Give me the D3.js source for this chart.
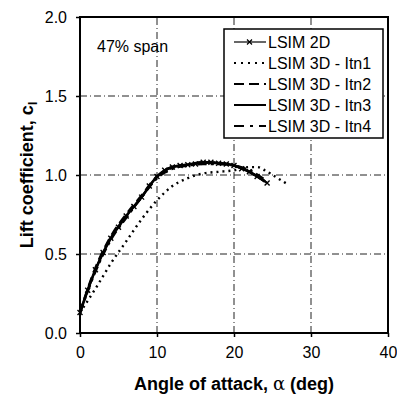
<!DOCTYPE html>
<html>
<head>
<meta charset="utf-8">
<script src="https://cdn.jsdelivr.net/npm/d3@7"></script>
<style>
  body { margin: 0; background: #fff; }
  svg { display: block; font-family: "Liberation Sans", Arial, sans-serif; }
</style>
</head>
<body>
<script>
// data
var alpha2D = [0, 1, 2, 3, 4, 5, 6, 7, 8, 9, 10, 11, 12, 13, 14, 15, 16, 17, 18, 19, 20, 21, 22, 23, 24.3];
var cl2D    = [0.13, 0.27, 0.40, 0.51, 0.60, 0.67, 0.74, 0.80, 0.86, 0.93, 0.99, 1.03, 1.05, 1.06, 1.065, 1.07, 1.08, 1.08, 1.075, 1.07, 1.06, 1.04, 1.02, 0.99, 0.95];

var alphaItn1 = [0, 2, 4, 6, 8, 10, 12, 14, 16, 18, 20, 22, 23, 24, 25, 26, 27];
var clItn1    = [0.13, 0.28, 0.44, 0.58, 0.72, 0.84, 0.93, 0.98, 1.01, 1.02, 1.03, 1.05, 1.05, 1.03, 1.00, 0.97, 0.94];

var alphaItn2 = [0, 2, 4, 6, 8, 10, 12, 14, 16, 18, 20, 22, 24];
var clItn2    = [0.13, 0.41, 0.61, 0.75, 0.87, 0.99, 1.05, 1.065, 1.08, 1.075, 1.06, 1.02, 0.96];

var alphaItn3 = [0, 2, 4, 6, 8, 10, 12, 14, 16, 18, 20, 22, 24];
var clItn3    = [0.13, 0.40, 0.60, 0.74, 0.86, 0.99, 1.05, 1.065, 1.08, 1.075, 1.06, 1.02, 0.96];

var alphaItn4 = [0, 2, 4, 6, 8, 10, 12, 14, 16, 18, 20, 22, 24];
var clItn4    = [0.13, 0.39, 0.59, 0.73, 0.86, 0.98, 1.04, 1.06, 1.07, 1.07, 1.06, 1.03, 0.97];

var xTicks = [0, 10, 20, 30, 40];
var yTicks = [0, 0.5, 1.0, 1.5, 2.0];
var legendNames = ["LSIM 2D", "LSIM 3D - Itn1", "LSIM 3D - Itn2", "LSIM 3D - Itn3", "LSIM 3D - Itn4"];

var W = 397, H = 400;
var m = {left: 80, right: 9, top: 17, bottom: 67};

var svg = d3.select(document.body).append('svg')
    .attr('width', W).attr('height', H);

var x = d3.scaleLinear().domain([0, 40]).range([m.left, W - m.right]);
var y = d3.scaleLinear().domain([0, 2]).range([H - m.bottom, m.top]);

// grid
svg.append('g').selectAll('line.vx').data(xTicks.slice(1, -1)).enter()
    .append('line')
    .attr('x1', function(d){ return x(d); }).attr('x2', function(d){ return x(d); })
    .attr('y1', y(0)).attr('y2', y(2))
    .attr('stroke', '#222').attr('stroke-width', 1)
    .attr('stroke-dasharray', '7,3,1,3');
svg.append('g').selectAll('line.hy').data(yTicks.slice(1, -1)).enter()
    .append('line')
    .attr('y1', function(d){ return y(d); }).attr('y2', function(d){ return y(d); })
    .attr('x1', x(0)).attr('x2', x(40))
    .attr('stroke', '#222').attr('stroke-width', 1)
    .attr('stroke-dasharray', '7,3,1,3');

// axes
var xAxis = d3.axisBottom(x).tickValues(xTicks).tickSize(4).tickPadding(10)
    .tickFormat(d3.format('d'));
var yAxis = d3.axisLeft(y).tickValues(yTicks).tickSize(4).tickPadding(9)
    .tickFormat(d3.format('.1f'));

var gx = svg.append('g').attr('transform', 'translate(0,' + y(0) + ')').call(xAxis);
var gy = svg.append('g').attr('transform', 'translate(' + x(0) + ',0)').call(yAxis);
[gx, gy].forEach(function(g){
    g.select('.domain').remove();
    g.selectAll('text').attr('font-size', 16).attr('fill', '#000')
        .attr('font-family', '"Liberation Sans", Arial, sans-serif');
    g.selectAll('line').attr('stroke', '#000').attr('stroke-width', 1.5);
});

// frame
svg.append('rect')
    .attr('x', x(0)).attr('y', y(2))
    .attr('width', x(40) - x(0)).attr('height', y(0) - y(2))
    .attr('fill', 'none').attr('stroke', '#000').attr('stroke-width', 2);

// series
var line = d3.line()
    .x(function(d){ return x(d[0]); })
    .y(function(d){ return y(d[1]); })
    .curve(d3.curveMonotoneX);

var series = [
    {a: alphaItn1, c: clItn1, dash: '2,4', w: 2.4},
    {a: alphaItn2, c: clItn2, dash: '9,5', w: 2.6},
    {a: alphaItn4, c: clItn4, dash: '9,4,3,4', w: 2.6},
    {a: alphaItn3, c: clItn3, dash: null, w: 2.6},
    {a: alpha2D, c: cl2D, dash: null, w: 2}
];
series.forEach(function(s){
    svg.append('path')
        .datum(d3.zip(s.a, s.c))
        .attr('d', line)
        .attr('fill', 'none').attr('stroke', '#000')
        .attr('stroke-width', s.w)
        .attr('stroke-dasharray', s.dash);
});

// x markers on the 2D series
svg.append('g').selectAll('path').data(d3.zip(alpha2D, cl2D)).enter()
    .append('path')
    .attr('d', function(d){
        var px = x(d[0]), py = y(d[1]), r = 2.5;
        return 'M' + (px - r) + ',' + (py - r) + 'L' + (px + r) + ',' + (py + r) +
               'M' + (px - r) + ',' + (py + r) + 'L' + (px + r) + ',' + (py - r);
    })
    .attr('stroke', '#000').attr('stroke-width', 1.4);

// span note
svg.append('text').attr('x', 97).attr('y', 52)
    .attr('font-size', 16).text('47% span');

// legend
var lg = svg.append('g').attr('transform', 'translate(224,29)');
lg.append('rect').attr('width', 159).attr('height', 109)
    .attr('fill', '#fff').attr('stroke', '#000').attr('stroke-width', 1.5);
var dashes = ['', '2,5', '10,5', null, '10,6,3,6'];
legendNames.forEach(function(name, i){
    var yy = 13 + i * 21;
    lg.append('line').attr('x1', 10).attr('x2', 42).attr('y1', yy).attr('y2', yy)
        .attr('stroke', '#000').attr('stroke-width', i === 0 ? 1.2 : 2)
        .attr('stroke-dasharray', dashes[i] || null);
    if (i === 0) {
        lg.append('path')
            .attr('d', 'M23,' + (yy - 2.5) + 'L28,' + (yy + 2.5) + 'M23,' + (yy + 2.5) + 'L28,' + (yy - 2.5))
            .attr('stroke', '#000').attr('stroke-width', 1.2);
    }
    lg.append('text').attr('x', 44).attr('y', yy + 6)
        .attr('font-size', 16).text(name);
});

// axis titles
var xt = svg.append('text')
    .attr('x', (x(0) + x(40)) / 2).attr('y', 390)
    .attr('text-anchor', 'middle').attr('font-size', 18).attr('font-weight', 'bold');
xt.append('tspan').text('Angle of attack, ');
xt.append('tspan').attr('font-weight', 'normal').attr('font-family', '"DejaVu Serif", serif')
    .text('α');
xt.append('tspan').text(' (deg)');

var yt = svg.append('text')
    .attr('transform', 'translate(33,' + ((y(0) + y(2)) / 2) + ') rotate(-90)')
    .attr('text-anchor', 'middle').attr('font-size', 18).attr('font-weight', 'bold');
yt.append('tspan').text('Lift coefficient, c');
yt.append('tspan').attr('font-size', 13).attr('dy', 4).text('l');
</script>
</body>
</html>
